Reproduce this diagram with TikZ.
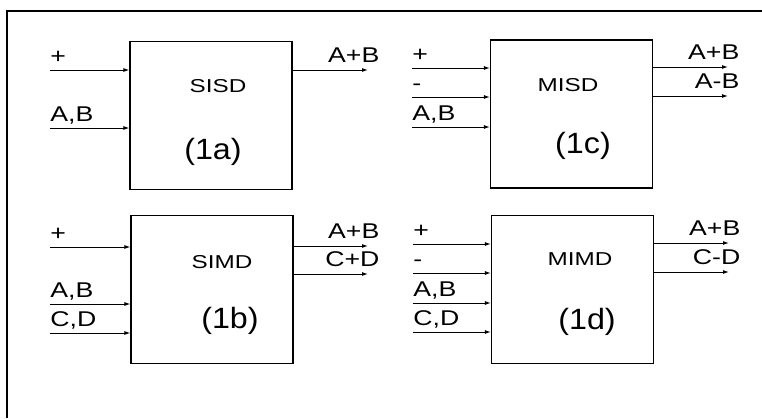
\documentclass[tikz,border=0pt]{standalone}
\usepackage{fontspec}
\setmainfont{Liberation Sans}
\usetikzlibrary{arrows.meta}

\tikzset{
  blk/.style={draw,line width=0.9pt,minimum width=121.5pt,minimum height=111pt,inner sep=0pt},
  sig/.style={line width=0.75pt,-{Latex[length=4.5pt,width=3pt]}},
  lbl/.style={font=\fontsize{16}{16}\selectfont,xscale=1.25,inner sep=0pt},
  ttl/.style={font=\fontsize{14}{14}\selectfont,xscale=1.3,inner sep=0pt},
  tag/.style={font=\fontsize{22}{22}\selectfont,xscale=1.1,inner sep=0pt}
}

\begin{document}
\begin{tikzpicture}[x=0.75pt,y=-0.75pt]
\useasboundingbox (0,0) rectangle (762,418);
\draw[line width=1.4pt] (7,418) -- (7,11) -- (762,11);

\node[blk] (SISD) at (211,115.5) {};
\node[blk] (SIMD) at (212,289.5) {};
\node[blk] (MISD) at (571.5,114) {};
\node[blk] (MIMD) at (572.5,289.5) {};

\node[ttl] at (218,86) {SISD};
\node[tag] at (213,152) {(1a)};
\node[ttl] at (222,262) {SIMD};
\node[tag] at (230,321) {(1b)};
\node[ttl] at (568,85) {MISD};
\node[tag] at (583,146) {(1c)};
\node[ttl] at (580,259) {MIMD};
\node[tag] at (587,322) {(1d)};

\coordinate (ia1) at (50,70);
\coordinate (ia2) at (50,128);
\coordinate (ib1) at (50,247);
\coordinate (ib2) at (50,304);
\coordinate (ib3) at (50,333);
\coordinate (ic1) at (412,68);
\coordinate (ic2) at (412,97);
\coordinate (ic3) at (412,127);
\coordinate (id1) at (413,244);
\coordinate (id2) at (413,273);
\coordinate (id3) at (413,303);
\coordinate (id4) at (413,332);

\coordinate (oa1) at (368,70);
\coordinate (ob1) at (368,246);
\coordinate (ob2) at (368,274);
\coordinate (oc1) at (728,67);
\coordinate (oc2) at (728,96);
\coordinate (od1) at (729,243);
\coordinate (od2) at (729,272);

\foreach \p/\b/\t in {ia1/SISD/+,ia2/SISD/{A,B},ib1/SIMD/+,ib2/SIMD/{A,B},ib3/SIMD/{C,D},
  ic1/MISD/+,ic2/MISD/-,ic3/MISD/{A,B},id1/MIMD/+,id2/MIMD/-,id3/MIMD/{A,B},id4/MIMD/{C,D}}{
  \draw[sig] (\p) -- (\p -| \b.west);
  \node[lbl,anchor=base west,yshift=5pt] at (\p) {\t};
}

\foreach \p/\b/\t in {oa1/SISD/A+B,ob1/SIMD/A+B,ob2/SIMD/C+D,
  oc1/MISD/A+B,oc2/MISD/A-B,od1/MIMD/A+B,od2/MIMD/C-D}{
  \draw[sig] (\p -| \b.east) -- (\p);
  \node[lbl,anchor=base east,xshift=7pt,yshift=6pt] at (\p) {\t};
}
\end{tikzpicture}
\end{document}
